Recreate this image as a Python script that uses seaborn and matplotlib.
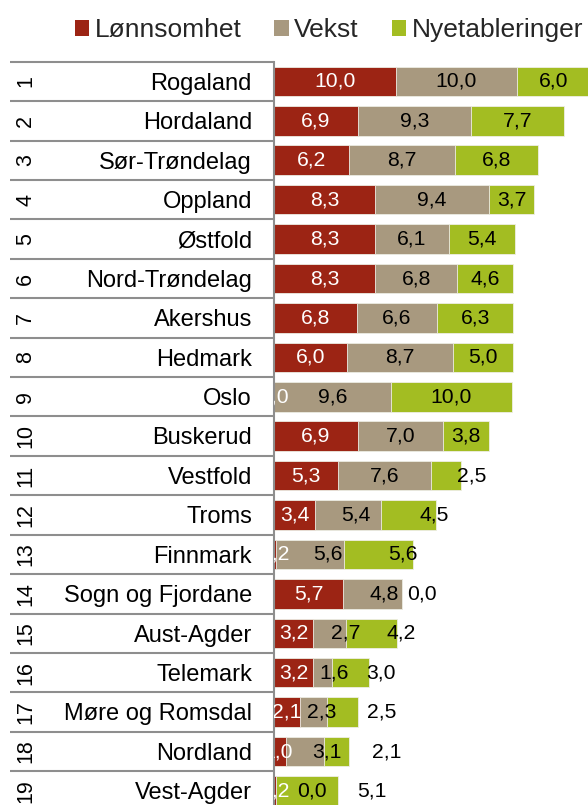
import matplotlib
matplotlib.use("Agg")
import matplotlib.pyplot as plt
import matplotlib.transforms as mtransforms
from matplotlib.patches import Patch
import seaborn as sns
import pandas as pd

# Fylke ranking with three index components
ranks = list(range(1, 20))
regions = ["Rogaland", "Hordaland", "Sør-Trøndelag", "Oppland", "Østfold",
           "Nord-Trøndelag", "Akershus", "Hedmark", "Oslo", "Buskerud",
           "Vestfold", "Troms", "Finnmark", "Sogn og Fjordane", "Aust-Agder",
           "Telemark", "Møre og Romsdal", "Nordland", "Vest-Agder"]
lonnsomhet = [10.0, 6.9, 6.2, 8.3, 8.3, 8.3, 6.8, 6.0, 0.0, 6.9,
              5.3, 3.4, 0.2, 5.7, 3.2, 3.2, 2.1, 1.0, 0.2]
vekst = [10.0, 9.3, 8.7, 9.4, 6.1, 6.8, 6.6, 8.7, 9.6, 7.0,
         7.6, 5.4, 5.6, 4.8, 2.7, 1.6, 2.3, 3.1, 0.0]
nyetableringer = [6.0, 7.7, 6.8, 3.7, 5.4, 4.6, 6.3, 5.0, 10.0, 3.8,
                  2.5, 4.5, 5.6, 0.0, 4.2, 3.0, 2.5, 2.1, 5.1]
series_names = ["Lønnsomhet", "Vekst", "Nyetableringer"]

# Hand-placed data labels (shift along x, in index units)
label_shift = {
    (10, 2): 2.1,
    (11, 1): 0.65, (11, 2): 2.1,
    (12, 1): 1.44, (12, 2): 2.0,
    (13, 1): 0.94, (13, 2): 1.68,
    (14, 1): 1.33, (14, 2): 2.5,
    (15, 1): 0.94, (15, 2): 2.53,
    (16, 1): 0.68, (16, 2): 3.22,
    (17, 0): -0.2, (17, 1): 1.78, (17, 2): 4.15,
    (18, 1): 2.93, (18, 2): 5.31,
}

RED = "#9C2414"
TAN = "#A8997F"
GREEN = "#A3BD22"
GRID = "#8E8E8E"
colors = [RED, TAN, GREEN]

sns.set_theme(style="white")
plt.rcParams["font.family"] = ["Liberation Sans", "DejaVu Sans"]

df = pd.DataFrame({"region": regions, "l": lonnsomhet, "v": vekst, "n": nyetableringer})
df["lv"] = df["l"] + df["v"]
df["lvn"] = df["lv"] + df["n"]

W, H = 588, 805
fig = plt.figure(figsize=(W / 100, H / 100), dpi=100)

x0_px, top_px, row_px = 274, 61.7, 39.42
unit_px = 12.15
n_rows = len(regions)
ymax = -0.5 + (H - top_px) / row_px
ax = fig.add_axes([x0_px / W, 0, (W - x0_px) / W, (H - top_px) / H])

bar_kw = dict(orient="h", width=0.75, saturation=1, edgecolor="#EEEEE6",
              linewidth=0.6, order=regions, ax=ax)
sns.barplot(data=df, x="lvn", y="region", color=GREEN, **bar_kw)
sns.barplot(data=df, x="lv", y="region", color=TAN, **bar_kw)
sns.barplot(data=df, x="l", y="region", color=RED, **bar_kw)

ax.set_xlim(0, (W - x0_px) / unit_px)
ax.set_ylim(ymax, -0.5)
ax.set_xlabel("")
ax.set_ylabel("")
ax.set_xticks([])
ax.set_yticks([])
for side in ["top", "right", "bottom"]:
    ax.spines[side].set_visible(False)
ax.spines["left"].set_color(GRID)
ax.spines["left"].set_linewidth(1.5)

# Value labels on each segment
values = [lonnsomhet, vekst, nyetableringer]
for i in range(n_rows):
    start = 0.0
    for k in range(3):
        val = values[k][i]
        cx = start + val / 2 + label_shift.get((i, k), 0.0)
        ax.text(cx, i, f"{val:.1f}".replace(".", ","), ha="center", va="center",
                fontsize=15.2, color="white" if k == 0 else "black", clip_on=True)
        start += val

# Rank / name table to the left of the bars
tr = mtransforms.blended_transform_factory(fig.transFigure, ax.transData)
for i in range(n_rows):
    ax.plot([10 / W, x0_px / W], [i - 0.5, i - 0.5], transform=tr,
            color=GRID, lw=1.5, clip_on=False, solid_capstyle="butt")
    ax.text(25.8 / W, i, str(ranks[i]), transform=tr, rotation=90,
            ha="center", va="center", fontsize=15.5, color="black", clip_on=False)
    ax.text(252 / W, i + 0.21, regions[i], transform=tr, ha="right",
            va="baseline", fontsize=17, color="black", clip_on=False)

handles = [Patch(facecolor=c, edgecolor="none") for c in colors]
fig.legend(handles, series_names, loc="center", bbox_to_anchor=(329 / W, 1 - 30 / H),
           ncol=3, frameon=False, fontsize=19, handlelength=0.55, handleheight=0.55,
           handletextpad=0.2, columnspacing=1.25, borderpad=0, borderaxespad=0)

fig.savefig("out.png", dpi=100)
